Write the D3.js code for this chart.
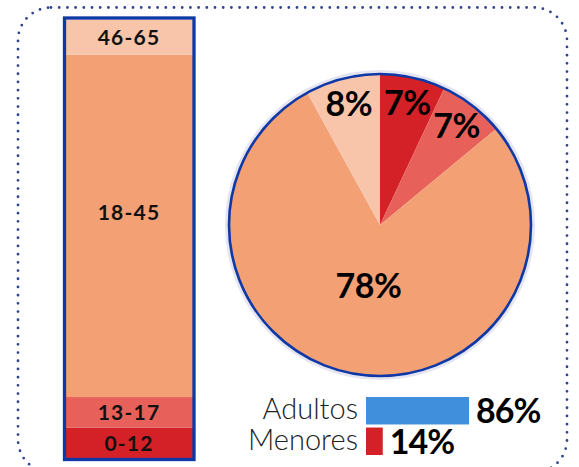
<!DOCTYPE html>
<html>
<head>
<meta charset="utf-8">
<script src="https://cdn.jsdelivr.net/npm/d3@7"></script>
<style>
  body { margin: 0; background: #fff; }
  svg { display: block; }
  text { font-family: Lato, "Open Sans", sans-serif; }
</style>
</head>
<body>
<div id="chart"></div>
<script>
// age groups, share of total (%)
var ageGroups = ["0-12", "13-17", "18-45", "46-65"];
var ageShares = [7, 7, 78, 8];
var ageColors = ["#d42027", "#e8605a", "#f2a074", "#f8c5ab"];

// adults vs minors
var groupNames = ["Adultos", "Menores"];
var groupShares = [86, 14];
var groupColors = ["#3f8fdc", "#d42027"];

var width = 579, height = 467;
var blue = "#0d38a6";

var svg = d3.select("#chart").append("svg")
    .attr("width", width)
    .attr("height", height);

// dotted frame
svg.append("path")
    .attr("d", roundRect(18, 7.5, 549, 465, 33))
    .attr("fill", "none")
    .attr("stroke", "#2f438f")
    .attr("stroke-width", 2.8)
    .attr("stroke-linecap", "round")
    .attr("stroke-dasharray", "0 8.2");

function roundRect(x, y, w, h, r) {
    var p = d3.path();
    p.moveTo(x + r, y);
    p.lineTo(x + w - r, y);
    p.arcTo(x + w, y, x + w, y + r, r);
    p.lineTo(x + w, y + h - r);
    p.arcTo(x + w, y + h, x + w - r, y + h, r);
    p.lineTo(x + r, y + h);
    p.arcTo(x, y + h, x, y + h - r, r);
    p.lineTo(x, y + r);
    p.arcTo(x, y, x + r, y, r);
    p.closePath();
    return p.toString();
}

// ---- stacked bar ----
var barX0 = 65, barX1 = 193;
var yBar = d3.scaleLinear().domain([0, 100]).range([458.5, 19.5]);

var stackData = [{}];
ageGroups.forEach(function(g, i) { stackData[0][g] = ageShares[i]; });
var series = d3.stack().keys(ageGroups)(stackData);

var bar = svg.append("g");
bar.selectAll("rect.seg")
    .data(series)
    .enter().append("rect")
    .attr("class", "seg")
    .attr("x", barX0)
    .attr("width", barX1 - barX0)
    .attr("y", function(d) { return yBar(d[0][1]); })
    .attr("height", function(d) { return yBar(d[0][0]) - yBar(d[0][1]); })
    .attr("fill", function(d, i) { return ageColors[i]; });

bar.append("rect")
    .attr("x", 64.5).attr("y", 18)
    .attr("width", 129.5).attr("height", 441.5)
    .attr("fill", "none")
    .attr("stroke", blue)
    .attr("stroke-width", 3.3);

var labelNudge = { "18-45": -14 };
bar.selectAll("text.seg")
    .data(series)
    .enter().append("text")
    .attr("class", "seg")
    .attr("x", (barX0 + barX1) / 2)
    .attr("y", function(d) {
        return (yBar(d[0][0]) + yBar(d[0][1])) / 2 + 8 + (labelNudge[d.key] || 0);
    })
    .attr("text-anchor", "middle")
    .attr("font-size", 21)
    .attr("font-weight", 700)
    .attr("letter-spacing", 1.2)
    .attr("fill", "#111")
    .text(function(d) { return d.key; });

// ---- pie ----
var cx = 380, cy = 225, r = 151;
var pieG = svg.append("g").attr("transform", "translate(" + cx + "," + cy + ")");

pieG.append("circle")
    .attr("r", r + 2)
    .attr("fill", "none")
    .attr("stroke", "#e4e5f1")
    .attr("stroke-width", 4);

var pie = d3.pie().sort(null).value(function(d) { return d; });
var arcs = pie(ageShares);
var arc = d3.arc().innerRadius(0).outerRadius(r);

pieG.selectAll("path")
    .data(arcs)
    .enter().append("path")
    .attr("d", arc)
    .attr("fill", function(d, i) { return ageColors[i]; });

pieG.append("circle")
    .attr("r", r)
    .attr("fill", "none")
    .attr("stroke", blue)
    .attr("stroke-width", 2.6);

pieG.selectAll("text")
    .data(arcs)
    .enter().append("text")
    .attr("transform", function(d) {
        var lr = d.value > 50 ? 62 : 125;
        var a = (d.startAngle + d.endAngle) / 2;
        return "translate(" + (Math.sin(a) * lr) + "," + (-Math.cos(a) * lr + 12) + ")";
    })
    .attr("text-anchor", "middle")
    .attr("font-size", 34)
    .attr("font-weight", 700)
    .attr("letter-spacing", -0.5)
    .attr("fill", "#000")
    .text(function(d) { return d.value + "%"; });

// ---- adults / minors ----
var xLeg = d3.scaleLinear().domain([0, 86]).range([0, 103]);
var yLeg = d3.scaleBand().domain(groupNames).range([397, 455]).paddingInner(0.1);

var leg = svg.append("g");
leg.selectAll("rect")
    .data(groupNames)
    .enter().append("rect")
    .attr("x", 366)
    .attr("y", function(d) { return yLeg(d); })
    .attr("width", function(d, i) { return xLeg(groupShares[i]); })
    .attr("height", yLeg.bandwidth())
    .attr("fill", function(d, i) { return groupColors[i]; });

leg.selectAll("text.name")
    .data(groupNames)
    .enter().append("text")
    .attr("class", "name")
    .attr("x", 358)
    .attr("y", function(d) { return yLeg(d) + yLeg.bandwidth() - 5; })
    .attr("text-anchor", "end")
    .attr("font-size", 29)
    .attr("font-weight", 300)
    .attr("fill", "#222")
    .text(function(d) { return d; });

leg.selectAll("text.val")
    .data(groupNames)
    .enter().append("text")
    .attr("class", "val")
    .attr("x", function(d, i) { return 366 + xLeg(groupShares[i]) + 7; })
    .attr("y", function(d) { return yLeg(d) + yLeg.bandwidth() - 1; })
    .attr("font-size", 34)
    .attr("font-weight", 700)
    .attr("letter-spacing", -1)
    .attr("fill", "#000")
    .text(function(d, i) { return groupShares[i] + "%"; });
</script>
</body>
</html>
